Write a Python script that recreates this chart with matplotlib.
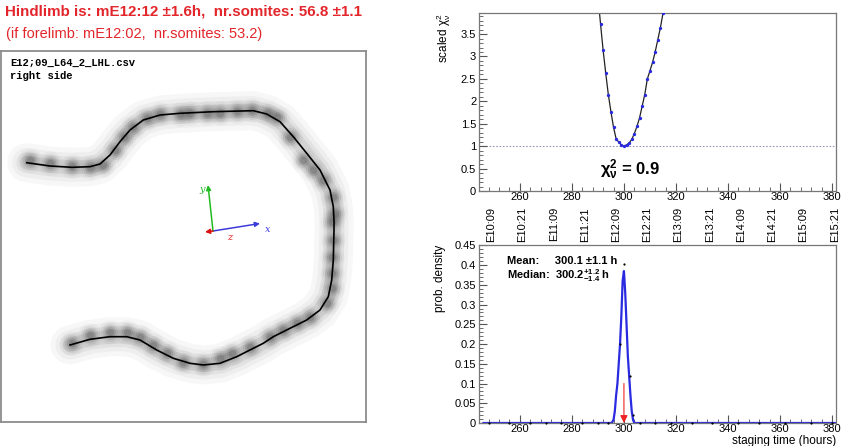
import matplotlib
matplotlib.use('Agg')
import numpy as np
import matplotlib.pyplot as plt
from matplotlib.ticker import MultipleLocator, FormatStrFormatter
from matplotlib.transforms import blended_transform_factory

plt.rcParams['font.family'] = ['Liberation Sans', 'DejaVu Sans']
plt.rcParams['mathtext.fontset'] = 'custom'
plt.rcParams['mathtext.rm'] = 'Liberation Sans'
plt.rcParams['mathtext.it'] = 'Liberation Sans:italic'
plt.rcParams['mathtext.bf'] = 'Liberation Sans:bold'
plt.rcParams['mathtext.default'] = 'regular'

RED = '#e3262b'

# ---- limb outline (left panel, image pixel coords) ----
curve_x = [26.7, 50, 71.7, 90, 100, 110, 120, 130, 143.3, 160, 180, 213.3, 253.3,
           266.7, 280, 293.3, 306.7, 320, 330, 333.3, 334, 334, 333.3, 331.7,
           328.3, 320, 306.7, 290, 273.3, 263.3, 253.3, 236.7, 220, 203.3, 190,
           173.3, 156.7, 140, 126.7, 110, 90, 70]
curve_y = [162.7, 166, 167.3, 166.7, 164, 155, 141.7, 130, 120, 115, 113.3, 111.7,
           110.7, 114, 121.7, 136.7, 153.3, 170, 190, 206.7, 220, 230, 260, 280,
           296.7, 310, 320, 328.3, 336.7, 343.3, 348.3, 356.7, 363.3, 365, 363.3,
           358.3, 350, 340, 336.7, 336.7, 339.3, 345]
somite_x = [30, 50, 72, 90, 103, 115, 124, 133, 147, 160, 180, 190, 207, 220, 237,
            252, 267, 277, 290, 303, 313, 323, 333, 335, 332, 333, 332, 332, 332,
            327, 310, 297, 283, 270, 250, 232, 220, 203, 183, 167, 153, 140, 127,
            110, 90, 72]
somite_y = [160, 163, 166, 167, 165, 150, 137, 127, 118, 114, 114, 113, 113, 113,
            111, 110, 113, 117, 137, 160, 170, 180, 197, 213, 222, 240, 257, 273,
            288, 303, 317, 323, 330, 337, 347, 353, 358, 364, 362, 353, 345, 337,
            332, 332, 335, 343]

# ---- scaled chi2 vs staging time ----
chi_hours = [290, 291, 292, 293, 294, 295, 296, 297, 298, 299, 300, 301, 302, 303,
             304, 305, 306, 307, 308, 309, 310, 311, 312, 313, 314, 315]
chi_vals = [4.35, 3.73, 3.14, 2.63, 2.15, 1.77, 1.42, 1.165, 1.09, 1.03, 1.00, 1.03,
            1.07, 1.15, 1.28, 1.44, 1.63, 1.89, 2.15, 2.50, 2.68, 2.87, 3.10, 3.37,
            3.64, 3.96]

# ---- probability density ----
pd_hours = [246, 295, 295.5, 296, 296.5, 297, 297.5, 298, 298.5, 299, 299.5, 300,
            300.5, 301, 301.5, 302, 302.5, 303, 303.5, 304, 382]
pd_vals = [0, 0, 0.002, 0.008, 0.03, 0.07, 0.1, 0.15, 0.2, 0.27, 0.36, 0.385,
           0.33, 0.25, 0.17, 0.12, 0.07, 0.03, 0.008, 0, 0]
pt_hours = [248, 256, 264, 270, 276, 284, 290, 294, 298.6, 300, 302.3, 303.5,
            306, 312, 318, 326, 334, 344, 352, 362, 372, 380]
pt_vals = [0, 0, 0, 0, 0, 0, 0, 0, 0.2, 0.403, 0.118, 0.02,
           0, 0, 0, 0, 0, 0, 0, 0, 0, 0]

stage_hours = [249, 261, 273, 285, 297, 309, 321, 333, 345, 357, 369, 381]
stage_labels = ['E10:09', 'E10:21', 'E11:09', 'E11:21', 'E12:09', 'E12:21',
                'E13:09', 'E13:21', 'E14:09', 'E14:21', 'E15:09', 'E15:21']

W, H = 842, 446
fig = plt.figure(figsize=(W / 100, H / 100), dpi=100)


def rect(x0, y0, x1, y1):
    return [x0 / W, 1 - y1 / H, (x1 - x0) / W, (y1 - y0) / H]


fig.text(5 / W, 1 - 12 / H, 'Hindlimb is: mE12:12 \u00b11.6h,  nr.somites: 56.8 \u00b11.1',
         color=RED, fontsize=10.9, fontweight='bold', va='center', ha='left')
fig.text(6 / W, 1 - 34 / H, '(if forelimb: mE12:02,  nr.somites: 53.2)',
         color=RED, fontsize=10.5, va='center', ha='left')

# left panel
ax0 = fig.add_axes(rect(1, 51, 366, 422))
ax0.set_xlim(1, 366)
ax0.set_ylim(422, 51)
ax0.set_xticks([])
ax0.set_yticks([])
for s in ax0.spines.values():
    s.set_color('#8c8c8c')
    s.set_linewidth(1.3)
for lw, c in [(28, '#f7f7f7'), (21, '#eeeeee'), (15, '#e2e2e2'), (10, '#d4d4d4')]:
    ax0.plot(curve_x, curve_y, color=c, lw=lw, solid_capstyle='round',
             solid_joinstyle='round', zorder=1)
for s, a in [(300, 0.04), (190, 0.07), (120, 0.11), (65, 0.16), (28, 0.2)]:
    ax0.scatter(somite_x, somite_y, s=s, color='#303030', alpha=a, lw=0, zorder=2)
ax0.plot(curve_x, curve_y, color='black', lw=1.2, zorder=3)
ax0.text(10, 63, 'E12;09_L64_2_LHL.csv', family='Liberation Mono', fontweight='bold',
         fontsize=7.6, va='center')
ax0.text(10, 76, 'right side', family='Liberation Mono', fontweight='bold',
         fontsize=7.6, va='center')
org = (213, 231)
for tip, c in [((260, 223.5), '#3c3cdc'), ((208, 185), '#22bb22'), ((205, 232), '#dd1111')]:
    ax0.annotate('', xy=tip, xytext=org,
                 arrowprops=dict(arrowstyle='-|>', color=c, lw=1.1,
                                 mutation_scale=7, shrinkA=0, shrinkB=0))
ax0.text(268, 229, 'x', color='#3c3cdc', family='DejaVu Serif', style='italic',
         fontsize=7, va='center', ha='center')
ax0.text(202, 190, 'y', color='#22bb22', family='DejaVu Serif', style='italic',
         fontsize=7, va='center', ha='center')
ax0.text(230, 238, 'z', color='#dd1111', family='DejaVu Serif', style='italic',
         fontsize=7, va='center', ha='center')


def style_axes(ax):
    for s in ax.spines.values():
        s.set_color('#777777')
        s.set_linewidth(0.9)
    ax.tick_params(which='both', direction='in', color='#555555', labelsize=8,
                   top=False, right=False, pad=2)
    ax.tick_params(axis='x', pad=1)
    ax.tick_params(which='major', length=6)
    ax.tick_params(which='minor', length=3)
    ax.xaxis.set_major_locator(MultipleLocator(20))
    ax.xaxis.set_minor_locator(MultipleLocator(4))
    ax.yaxis.set_major_formatter(FormatStrFormatter('%g'))
    ax.set_xlim(244.3, 381.5)


# chi2 panel
ax1 = fig.add_axes(rect(479, 13, 836, 191))
style_axes(ax1)
ax1.set_ylim(0, 3.97)
ax1.yaxis.set_major_locator(MultipleLocator(0.5))
ax1.yaxis.set_minor_locator(MultipleLocator(0.1))
ax1.axhline(1.0, color='#9a9ab8', lw=0.8, ls=(0, (1.5, 1.5)), zorder=1)
ax1.plot(chi_hours, chi_vals, color='#222222', lw=0.9, zorder=2)
ax1.plot(chi_hours, chi_vals, 'o', color='#2a2ae0', ms=2.4, mew=0, zorder=3)
ax1.set_ylabel(r'scaled $\chi^2_\nu$', fontsize=8.5, loc='top', labelpad=6)
ax1.text(0.423, 0.12, r'$\mathbf{\chi^2_\nu}$ = 0.9', transform=ax1.transAxes,
         fontsize=12, fontweight='bold', ha='center', va='center')
tr = blended_transform_factory(ax1.transData, ax1.transAxes)
for h, lab in zip(stage_hours, stage_labels):
    ax1.text(h, -0.09, lab, transform=tr, rotation=90, ha='center', va='top',
             fontsize=8)

# probability panel
ax2 = fig.add_axes(rect(479, 245, 836, 423))
style_axes(ax2)
ax2.set_ylim(0, 0.451)
ax2.yaxis.set_major_locator(MultipleLocator(0.05))
ax2.yaxis.set_minor_locator(MultipleLocator(0.01))
ax2.plot(pd_hours, pd_vals, color='#2a2ae0', lw=1.6, zorder=2)
ax2.plot(pt_hours, pt_vals, 'o', color='black', ms=1.6, mew=0, zorder=3,
         clip_on=False)
ax2.annotate('', xy=(300, 0.0), xytext=(300, 0.1),
             arrowprops=dict(arrowstyle='-|>', color='#ee2222', lw=0.8,
                             mutation_scale=11, shrinkA=0, shrinkB=0), zorder=4)
ax2.set_ylabel('prob. density', fontsize=8.5, loc='top', labelpad=6)
ax2.set_xlabel('staging time (hours)', fontsize=8.5, loc='right')
ax2.xaxis.set_label_coords(1.0, -0.07)
ax2.text(0.078, 0.91, 'Mean:     300.1 \u00b11.1 h', transform=ax2.transAxes,
         fontsize=8, fontweight='bold', va='center')
ax2.text(0.078, 0.826, r'Median:  300.2$\mathbf{^{+1.2}_{-1.4}}$ h',
         transform=ax2.transAxes, fontsize=8, fontweight='bold', va='center')

fig.savefig('out.png', dpi=100)
